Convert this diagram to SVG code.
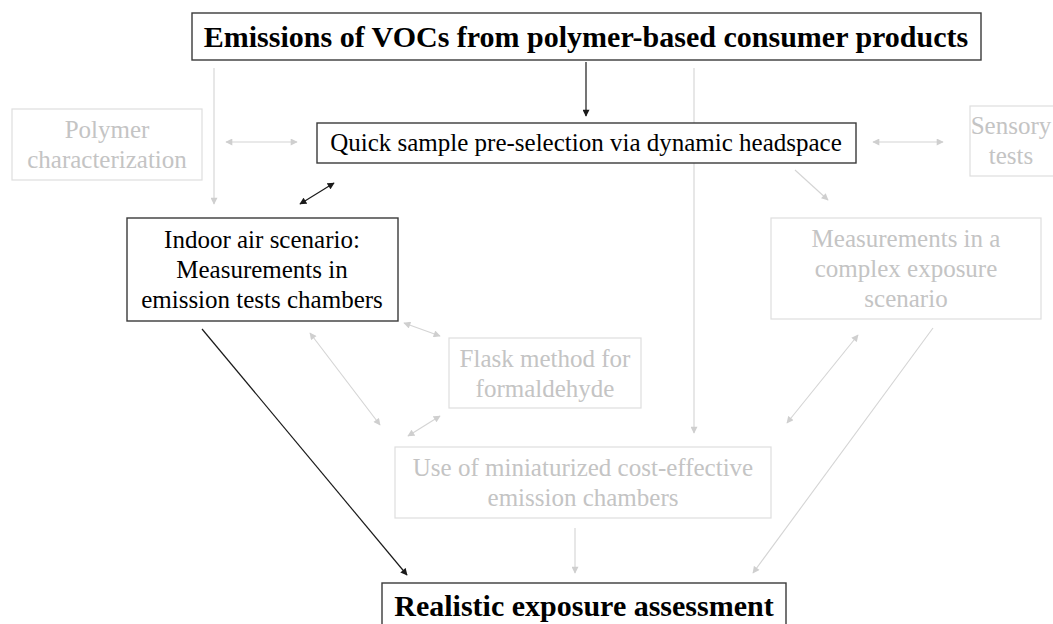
<svg xmlns="http://www.w3.org/2000/svg" width="1053" height="624" viewBox="0 0 1053 624">
  <style>
    .box-main { fill: #ffffff; stroke: #3a3a3a; stroke-width: 1.4; }
    .box-faded { fill: #ffffff; stroke: #dedede; stroke-width: 1.2; }
    .c-dark { stroke: #1a1a1a; stroke-width: 1.2; fill: none; }
    .c-faded { stroke: #d4d4d4; stroke-width: 1.1; fill: none; }
  </style>
  <defs>
    <marker id="ah-dark" viewBox="0 0 10 10" refX="9" refY="5" markerWidth="8" markerHeight="7" markerUnits="userSpaceOnUse" orient="auto-start-reverse">
      <path d="M0,0 L10,5 L0,10 z" fill="#1a1a1a"/>
    </marker>
    <marker id="ah-faded" viewBox="0 0 10 10" refX="9" refY="5" markerWidth="8" markerHeight="7" markerUnits="userSpaceOnUse" orient="auto-start-reverse">
      <path d="M0,0 L10,5 L0,10 z" fill="#cfcfcf"/>
    </marker>
  </defs>

  <rect x="0" y="0" width="1053" height="624" fill="#ffffff"/>

  <!-- connectors -->
  <g id="connectors">
    <line class="c-dark" x1="586" y1="62" x2="586" y2="116" marker-end="url(#ah-dark)"/>
    <line class="c-faded" x1="214" y1="68" x2="214" y2="204" marker-end="url(#ah-faded)"/>
    <line class="c-faded" x1="694" y1="68" x2="694" y2="433" marker-end="url(#ah-faded)"/>
    <line class="c-faded" x1="226" y1="142" x2="297" y2="142" marker-start="url(#ah-faded)" marker-end="url(#ah-faded)"/>
    <line class="c-faded" x1="873" y1="142" x2="943" y2="142" marker-start="url(#ah-faded)" marker-end="url(#ah-faded)"/>
    <line class="c-dark" x1="300" y1="204" x2="334" y2="183" marker-start="url(#ah-dark)" marker-end="url(#ah-dark)"/>
    <line class="c-faded" x1="795" y1="170" x2="828" y2="200" marker-end="url(#ah-faded)"/>
    <line class="c-dark" x1="202" y1="329" x2="407" y2="575" marker-end="url(#ah-dark)"/>
    <line class="c-faded" x1="404" y1="323" x2="440" y2="336" marker-start="url(#ah-faded)" marker-end="url(#ah-faded)"/>
    <line class="c-faded" x1="310" y1="333" x2="380" y2="425" marker-start="url(#ah-faded)" marker-end="url(#ah-faded)"/>
    <line class="c-faded" x1="440" y1="416" x2="408" y2="436" marker-start="url(#ah-faded)" marker-end="url(#ah-faded)"/>
    <line class="c-faded" x1="858" y1="335" x2="787" y2="423" marker-start="url(#ah-faded)" marker-end="url(#ah-faded)"/>
    <line class="c-faded" x1="933" y1="328" x2="753" y2="573" marker-end="url(#ah-faded)"/>
    <line class="c-faded" x1="575" y1="528" x2="575" y2="573" marker-end="url(#ah-faded)"/>
  </g>

  <!-- nodes -->
  <g id="node-emissions">
    <rect class="box-main" x="192" y="13" width="789" height="47"/>
    <text x="586" y="47" font-family="Liberation Serif" font-size="30" font-weight="bold" text-anchor="middle" fill="#000000">Emissions of VOCs from polymer-based consumer products</text>
  </g>

  <g id="node-polymer" font-family="Liberation Serif" font-size="25" text-anchor="middle" fill="#c4c4c4">
    <rect class="box-faded" x="12" y="109" width="190" height="71"/>
    <text x="107" y="138" font-family="Liberation Serif">Polymer</text>
    <text x="107" y="168" font-family="Liberation Serif">characterization</text>
  </g>

  <g id="node-headspace">
    <rect class="box-main" x="317" y="123" width="539" height="40"/>
    <text x="586" y="151" font-family="Liberation Serif" font-size="25" text-anchor="middle" fill="#000000">Quick sample pre-selection via dynamic headspace</text>
  </g>

  <g id="node-sensory" font-family="Liberation Serif" font-size="25" text-anchor="middle" fill="#c4c4c4">
    <rect class="box-faded" x="970" y="106" width="100" height="70"/>
    <text x="1011" y="134" font-family="Liberation Serif">Sensory</text>
    <text x="1011" y="164" font-family="Liberation Serif">tests</text>
  </g>

  <g id="node-indoor" font-family="Liberation Serif" font-size="25" text-anchor="middle" fill="#000000">
    <rect class="box-main" x="127" y="218" width="271" height="103"/>
    <text x="262" y="248" font-family="Liberation Serif">Indoor air scenario:</text>
    <text x="262" y="278" font-family="Liberation Serif">Measurements in</text>
    <text x="262" y="308" font-family="Liberation Serif">emission tests chambers</text>
  </g>

  <g id="node-complex" font-family="Liberation Serif" font-size="25" text-anchor="middle" fill="#c4c4c4">
    <rect class="box-faded" x="771" y="218" width="270" height="101"/>
    <text x="906" y="247" font-family="Liberation Serif">Measurements in a</text>
    <text x="906" y="277" font-family="Liberation Serif">complex exposure</text>
    <text x="906" y="307" font-family="Liberation Serif">scenario</text>
  </g>

  <g id="node-flask" font-family="Liberation Serif" font-size="25" text-anchor="middle" fill="#c4c4c4">
    <rect class="box-faded" x="449" y="338" width="192" height="70"/>
    <text x="545" y="367" font-family="Liberation Serif">Flask method for</text>
    <text x="545" y="397" font-family="Liberation Serif">formaldehyde</text>
  </g>

  <g id="node-miniaturized" font-family="Liberation Serif" font-size="25" text-anchor="middle" fill="#c4c4c4">
    <rect class="box-faded" x="395" y="447" width="376" height="71"/>
    <text x="583" y="476" font-family="Liberation Serif">Use of miniaturized cost-effective</text>
    <text x="583" y="506" font-family="Liberation Serif">emission chambers</text>
  </g>

  <g id="node-realistic">
    <rect class="box-main" x="382" y="583" width="404" height="50"/>
    <text x="584" y="616" font-family="Liberation Serif" font-size="30" font-weight="bold" text-anchor="middle" fill="#000000">Realistic exposure assessment</text>
  </g>
</svg>
